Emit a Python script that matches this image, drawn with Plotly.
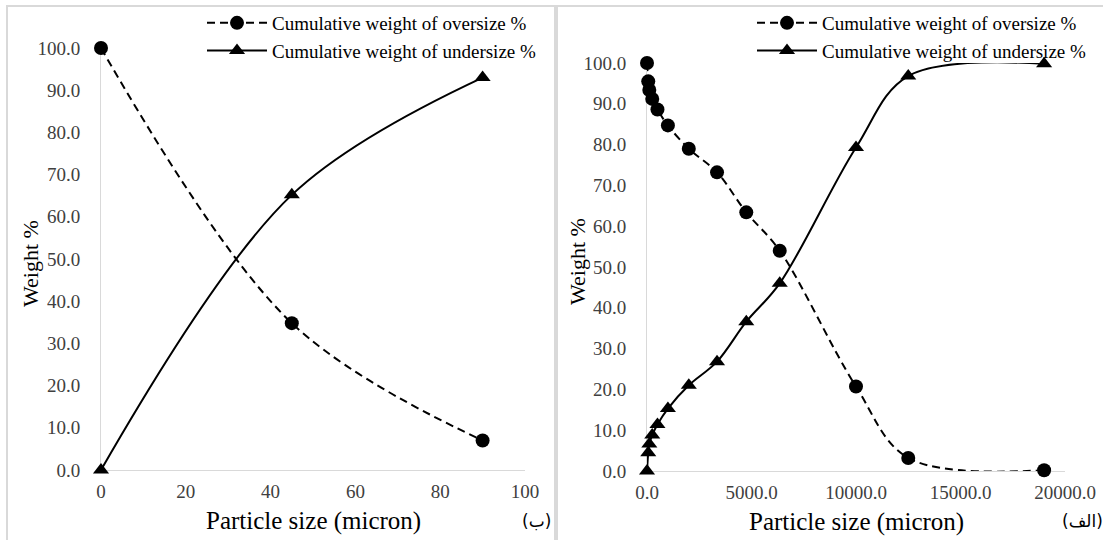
import plotly.graph_objects as go

# ---------------- data ----------------
# Panel (ب) – fine fraction
left_size = [0, 45, 90]
left_oversize = [100.0, 34.8, 7.0]
left_undersize = [0.0, 65.2, 93.0]

# Panel (الف) – coarse fraction
right_size = [0, 60, 110, 250, 500, 1000, 2000, 3350, 4750, 6350, 10000, 12500, 19000]
right_oversize = [100.0, 95.5, 93.4, 91.2, 88.6, 84.7, 79.0, 73.2, 63.4, 54.0, 20.7, 3.2, 0.2]
right_undersize = [0.0, 4.5, 6.6, 8.8, 11.4, 15.3, 21.0, 26.8, 36.6, 46.0, 79.3, 96.8, 99.8]

legend_over = "Cumulative weight of oversize %"
legend_under = "Cumulative weight of undersize %"
x_title = "Particle size (micron)"
y_title = "Weight %"
label_left = "(ب)"
label_right = "(الف)"

W, H = 1103, 540
SERIF = "Liberation Serif"


def px(x):
    return x / W


def py(y):
    return 1 - y / H


fig = go.Figure()

line_over = dict(color="black", width=2, dash="8px,5px", shape="spline", smoothing=1.0)
line_under = dict(color="black", width=2, shape="spline", smoothing=1.0)
mk_circle = dict(symbol="circle", size=14, color="black")
mk_tri = dict(symbol="triangle-up", size=14, color="black")

fig.add_trace(go.Scatter(x=left_size, y=left_oversize, mode="lines+markers", name=legend_over,
                         line=line_over, marker=mk_circle, xaxis="x", yaxis="y",
                         cliponaxis=False, legend="legend"))
fig.add_trace(go.Scatter(x=left_size, y=left_undersize, mode="lines+markers", name=legend_under,
                         line=line_under, marker=mk_tri, xaxis="x", yaxis="y",
                         cliponaxis=False, legend="legend"))
fig.add_trace(go.Scatter(x=right_size, y=right_oversize, mode="lines+markers", name=legend_over,
                         line=line_over, marker=mk_circle, xaxis="x2", yaxis="y2",
                         cliponaxis=False, legend="legend2"))
fig.add_trace(go.Scatter(x=right_size, y=right_undersize, mode="lines+markers", name=legend_under,
                         line=line_under, marker=mk_tri, xaxis="x2", yaxis="y2",
                         cliponaxis=False, legend="legend2"))

axis_common = dict(showgrid=False, zeroline=False, showline=True, linecolor="#d9d9d9", linewidth=1,
                   layer="below traces", ticks="", automargin=False,
                   tickfont=dict(family=SERIF, size=19, color="#404040"))

legend_common = dict(font=dict(family=SERIF, size=19, color="black"), bgcolor="rgba(0,0,0,0)",
                     xanchor="left", yanchor="top", itemwidth=60, tracegroupgap=0)

fig.update_layout(
    width=W, height=H,
    margin=dict(l=0, r=0, t=0, b=0, pad=0, autoexpand=False),
    paper_bgcolor="white", plot_bgcolor="white",
    xaxis=dict(domain=[px(101), px(525)], range=[0, 100], dtick=20, anchor="y",
               ticklabelstandoff=4, **axis_common),
    yaxis=dict(domain=[py(470), py(48)], range=[0, 100], dtick=10, tickformat=".1f", anchor="x",
               ticklabelstandoff=16, **axis_common),
    xaxis2=dict(domain=[px(647), px(1065)], range=[0, 20000], dtick=5000, tickformat=".1f", anchor="y2",
                ticklabelstandoff=4, **axis_common),
    yaxis2=dict(domain=[py(471), py(63)], range=[0, 100], dtick=10, tickformat=".1f", anchor="x2",
                ticklabelstandoff=16, **axis_common),
    legend=dict(x=px(202), y=py(4), **legend_common),
    legend2=dict(x=px(752), y=py(4), **legend_common),
    showlegend=True,
)

# panel frames
fig.add_shape(type="rect", xref="paper", yref="paper", x0=px(7), x1=px(555), y0=py(6), y1=py(600),
              line=dict(color="#d9d9d9", width=2), layer="below")
fig.add_shape(type="rect", xref="paper", yref="paper", x0=px(557), x1=px(1115), y0=py(6), y1=py(600),
              line=dict(color="#d9d9d9", width=2), layer="below")

xt_font = dict(family=SERIF, size=25, color="black")
yt_font = dict(family=SERIF, size=22, color="black")
fig.add_annotation(text=x_title, x=px(313), y=py(521), xref="paper", yref="paper",
                   showarrow=False, font=xt_font, xanchor="center", yanchor="middle")
fig.add_annotation(text=x_title, x=px(856), y=py(522), xref="paper", yref="paper",
                   showarrow=False, font=xt_font, xanchor="center", yanchor="middle")
fig.add_annotation(text=y_title, x=px(30), y=py(264), xref="paper", yref="paper", textangle=-90,
                   showarrow=False, font=yt_font, xanchor="center", yanchor="middle")
fig.add_annotation(text=y_title, x=px(577), y=py(262), xref="paper", yref="paper", textangle=-90,
                   showarrow=False, font=yt_font, xanchor="center", yanchor="middle")
fig.add_annotation(text=label_left, x=px(536), y=py(521), xref="paper", yref="paper",
                   showarrow=False, font=dict(family="DejaVu Sans", size=17, color="black"),
                   xanchor="center", yanchor="middle")
fig.add_annotation(text=label_right, x=px(1060), y=py(521), xref="paper", yref="paper",
                   showarrow=False, font=dict(family="DejaVu Sans", size=17, color="black"),
                   xanchor="left", yanchor="middle")

fig.write_html("out.html", config={"displayModeBar": False},
               post_script="document.body.style.margin='0';")
